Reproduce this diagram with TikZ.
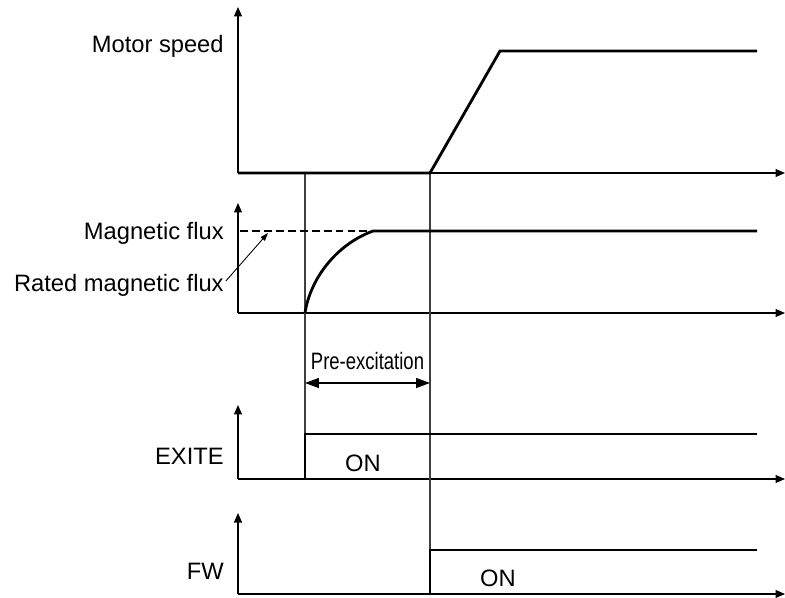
\documentclass[tikz,border=0pt]{standalone}
\usepackage{fontspec}
\setmainfont{Liberation Sans}
\newfontfamily\estreita[FakeStretch=0.78]{Liberation Sans}
\usetikzlibrary{arrows.meta}

\begin{document}
\begin{tikzpicture}[
x=0.02cm, y=-0.02cm,
eixo/.style={line width=0.6pt, -{Triangle[length=0.19cm, width=0.16cm]}},
sinal/.style={line width=1.6pt, line join=miter},
guia/.style={line width=0.6pt, black!75},
tracejado/.style={line width=0.6pt, dash pattern=on 4.5pt off 2.3pt},
rotulo/.style={anchor=base east, inner sep=0pt, font=\fontsize{13.5}{16}\selectfont},
texto/.style={anchor=base, inner sep=0pt, font=\fontsize{13.5}{16}\selectfont},
seta/.style={line width=0.5pt, -{Triangle[length=0.16cm, width=0.11cm]}},
setadupla/.style={line width=0.8pt, {Triangle[length=0.28cm, width=0.2cm]}-{Triangle[length=0.28cm, width=0.2cm]}}
]
\useasboundingbox (0,0) rectangle (785,598);

% origens dos eixos
\coordinate (o1) at (238,173);
\coordinate (o2) at (238,313);
\coordinate (o3) at (238,479);
\coordinate (o4) at (238,594);

% eixos
\draw[eixo] (o1) -- (238,7);
\draw[eixo] (o1) -- (785,173);
\draw[eixo] (o2) -- (238,203);
\draw[eixo] (o2) -- (785,313);
\draw[eixo] (o3) -- (238,405);
\draw[eixo] (o3) -- (785,479);
\draw[eixo] (o4) -- (238,513);
\draw[eixo] (o4) -- (785,594);

% linhas guia
\draw[guia] (305,173) -- (305,479);
\draw[guia] (430,173) -- (430,594);

% rotulos
\node[rotulo] (velocidade) at (224,53) {Motor speed};
\node[rotulo] (fluxo) at (224,239) {Magnetic flux};
\node[rotulo] (nominal) at (224,291) {Rated magnetic flux};
\node[rotulo] (exite) at (224,464) {EXITE};
\node[rotulo] (fw) at (224,579) {FW};
\node[texto] (onexite) at (363,471) {ON};
\node[texto] (onfw) at (498,586) {ON};
\node[texto, font=\fontsize{13.5}{16}\estreita] (preexc) at (367.5,369) {Pre-excitation};

% sinais
\draw[sinal] (o1) -- (430,173) -- (500,51) -- (757,51);
\draw[tracejado] (240,231) -- (373,231);
\draw[sinal] (305,313) .. controls (310,280) and (335,245) .. (373,231) -- (757,231);
\draw[sinal] (o3) -- (305,479) -- (305,434) -- (757,434);
\draw[sinal] (o4) -- (430,594) -- (430,550) -- (757,550);

% setas
\coordinate (alvo) at (268,233);
\draw[seta] (nominal.east) ++(2,-4) -- (alvo);
\coordinate (pa) at (305,383);
\coordinate (pb) at (430,383);
\draw[setadupla] (pa) -- (pb);
\end{tikzpicture}
\end{document}
